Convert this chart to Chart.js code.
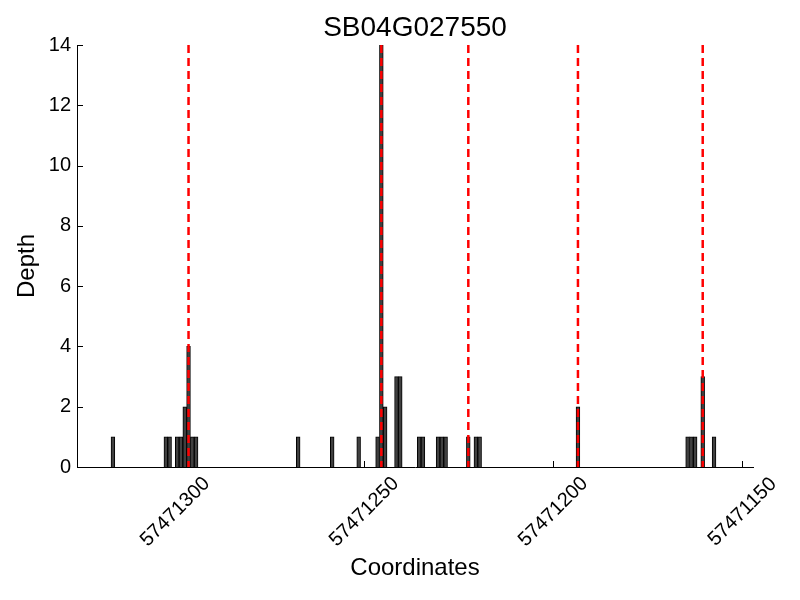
<!DOCTYPE html>
<html><head><meta charset="utf-8">
<script src="https://cdn.jsdelivr.net/npm/chart.js@4"></script>
<style>html,body{margin:0;padding:0;background:#fff}#wrap{width:800px;height:600px}</style>
</head><body><div id="wrap"><canvas id="c" width="800" height="600"></canvas></div>
<script>
const titleText = 'SB04G027550';
const xLabel = 'Coordinates';
const yLabel = 'Depth';
// genomic coordinate of each bin (bin spans [c, c+1]) and its read depth
const coords = [57471316, 57471302, 57471301, 57471299, 57471298, 57471297, 57471296, 57471295, 57471294,
  57471267, 57471258, 57471251, 57471246, 57471245, 57471244, 57471241, 57471240, 57471235, 57471234,
  57471230, 57471229, 57471228, 57471222, 57471220, 57471219, 57471193, 57471164, 57471163, 57471162,
  57471160, 57471157];
const depths = [1, 1, 1, 1, 1, 2, 4, 1, 1,
  1, 1, 1, 1, 14, 2, 3, 3, 1, 1,
  1, 1, 1, 1, 1, 1, 2, 1, 1, 1,
  3, 1];
// red dashed marker positions
const markerCoords = [57471296, 57471245, 57471222, 57471193, 57471160];
const xTicks = [57471300, 57471250, 57471200, 57471150];
const yTicks = [0, 2, 4, 6, 8, 10, 12, 14];
const xMin = 57471147.2, xMax = 57471326;
const yMin = 0, yMax = 14;

const FONT = '"Liberation Sans", Arial, Helvetica, sans-serif';
const points = coords.map((c, i) => ({ x: c + 0.5, y: depths[i] }));

const overlay = {
  id: 'overlay',
  afterDatasetsDraw(chart) {
    const { ctx, chartArea: a, scales: { x, y } } = chart;
    ctx.save();
    ctx.strokeStyle = '#ff0000'; ctx.lineWidth = 2.5; ctx.setLineDash([8, 5]);
    markerCoords.forEach(c => {
      const px = x.getPixelForValue(c + 0.5);
      ctx.beginPath(); ctx.moveTo(px, a.top); ctx.lineTo(px, a.bottom); ctx.stroke();
    });
    ctx.setLineDash([]);
    ctx.strokeStyle = '#000'; ctx.lineWidth = 1;
    xTicks.forEach(v => {
      const px = Math.round(x.getPixelForValue(v)) + 0.5;
      ctx.beginPath(); ctx.moveTo(px, a.bottom); ctx.lineTo(px, a.bottom - 6); ctx.stroke();
    });
    yTicks.forEach(v => {
      const py = Math.round(y.getPixelForValue(v)) + 0.5;
      ctx.beginPath(); ctx.moveTo(a.left, py); ctx.lineTo(a.left + 6, py); ctx.stroke();
    });
    ctx.fillStyle = '#000';
    ctx.font = '20px ' + FONT; ctx.textAlign = 'center'; ctx.textBaseline = 'middle';
    xTicks.forEach(v => {
      const px = x.getPixelForValue(v);
      ctx.save(); ctx.translate(px, a.bottom + 45); ctx.rotate(-Math.PI / 4);
      ctx.fillText(String(v), 0, 0); ctx.restore();
    });
    ctx.font = '28px ' + FONT;
    ctx.fillText(titleText, (a.left + a.right) / 2, 28);
    ctx.font = '24px ' + FONT;
    ctx.fillText(xLabel, (a.left + a.right) / 2, 568);
    ctx.save(); ctx.translate(27, 266); ctx.rotate(-Math.PI / 2);
    ctx.fillText(yLabel, 0, 0); ctx.restore();
    ctx.restore();
  }
};

new Chart(document.getElementById('c'), {
  type: 'bar',
  data: {
    datasets: [{
      data: points,
      backgroundColor: '#404040',
      borderColor: '#000000',
      borderWidth: 1,
      barPercentage: 1,
      categoryPercentage: 1
    }]
  },
  options: {
    responsive: false,
    animation: false,
    devicePixelRatio: 1,
    layout: { padding: { top: 45, right: 47, left: 0, bottom: 0 } },
    plugins: { legend: { display: false }, tooltip: { enabled: false }, title: { display: false } },
    scales: {
      x: {
        type: 'linear', reverse: true, min: xMin, max: xMax, offset: false,
        afterBuildTicks: s => { s.ticks = xTicks.map(v => ({ value: v })); },
        afterFit: s => { s.height = 133; },
        grid: { display: false, drawTicks: false },
        border: { display: true, color: '#000', width: 1 },
        ticks: { display: false },
        title: { display: false }
      },
      y: {
        min: yMin, max: yMax,
        afterBuildTicks: s => { s.ticks = yTicks.map(v => ({ value: v })); },
        afterFit: s => { s.width = 77; },
        grid: { display: false, drawTicks: false },
        border: { display: true, color: '#000', width: 1 },
        ticks: { color: '#000', padding: 6, font: { family: FONT, size: 20 } },
        title: { display: false }
      }
    }
  },
  plugins: [overlay]
});
</script></body></html>
